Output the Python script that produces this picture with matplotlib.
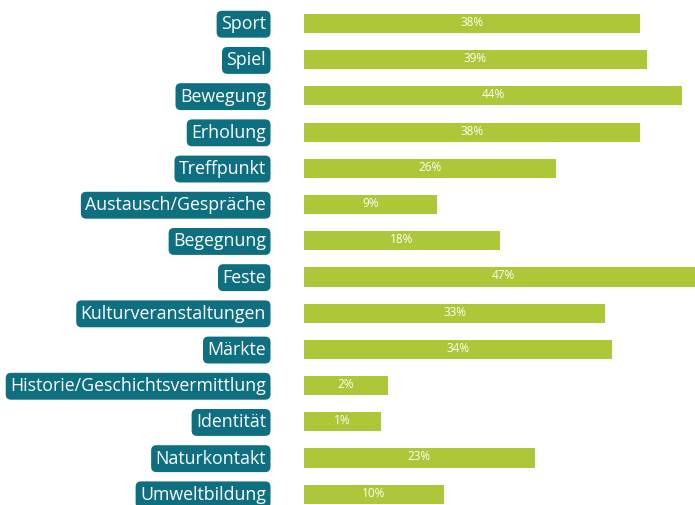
import matplotlib.pyplot as plt

categories = ['Sport', 'Spiel', 'Bewegung', 'Erholung', 'Treffpunkt',
              'Austausch/Gespräche', 'Begegnung', 'Feste',
              'Kulturveranstaltungen', 'Märkte',
              'Historie/Geschichtsvermittlung', 'Identität',
              'Naturkontakt', 'Umweltbildung']
values = [38, 39, 44, 38, 26, 9, 18, 47, 33, 34, 2, 1, 23, 10]

teal = '#0d6f80'
green = '#acc838'
base = -10  # bars start a bit left of zero so small values stay readable

plt.rcParams['font.family'] = ['Open Sans', 'DejaVu Sans']

fig = plt.figure(figsize=(6.95, 5.05), dpi=100)
ax = fig.add_axes([304 / 695, 0, 391 / 695, 1])

y = list(range(len(categories)))
ax.barh(y, [v - base for v in values], left=base, height=0.53,
        color=green, linewidth=0)

for yi, cat, v in zip(y, categories, values):
    ax.text((base + v) / 2, yi - 0.03, f'{v}%', ha='center', va='center',
            color='white', fontsize=8.5)
    ax.text(-0.097, yi + 0.02, cat, transform=ax.get_yaxis_transform(),
            ha='right', va='center', color='white', fontsize=12.8,
            fontweight='medium',
            bbox=dict(boxstyle='round,pad=0.25,rounding_size=0.3',
                      facecolor=teal, edgecolor='none'))

ax.set_xlim(base, base + 391 / 7)
ax.set_ylim(13.30, -0.649)
ax.axis('off')

fig.savefig('out.png', dpi=100)
